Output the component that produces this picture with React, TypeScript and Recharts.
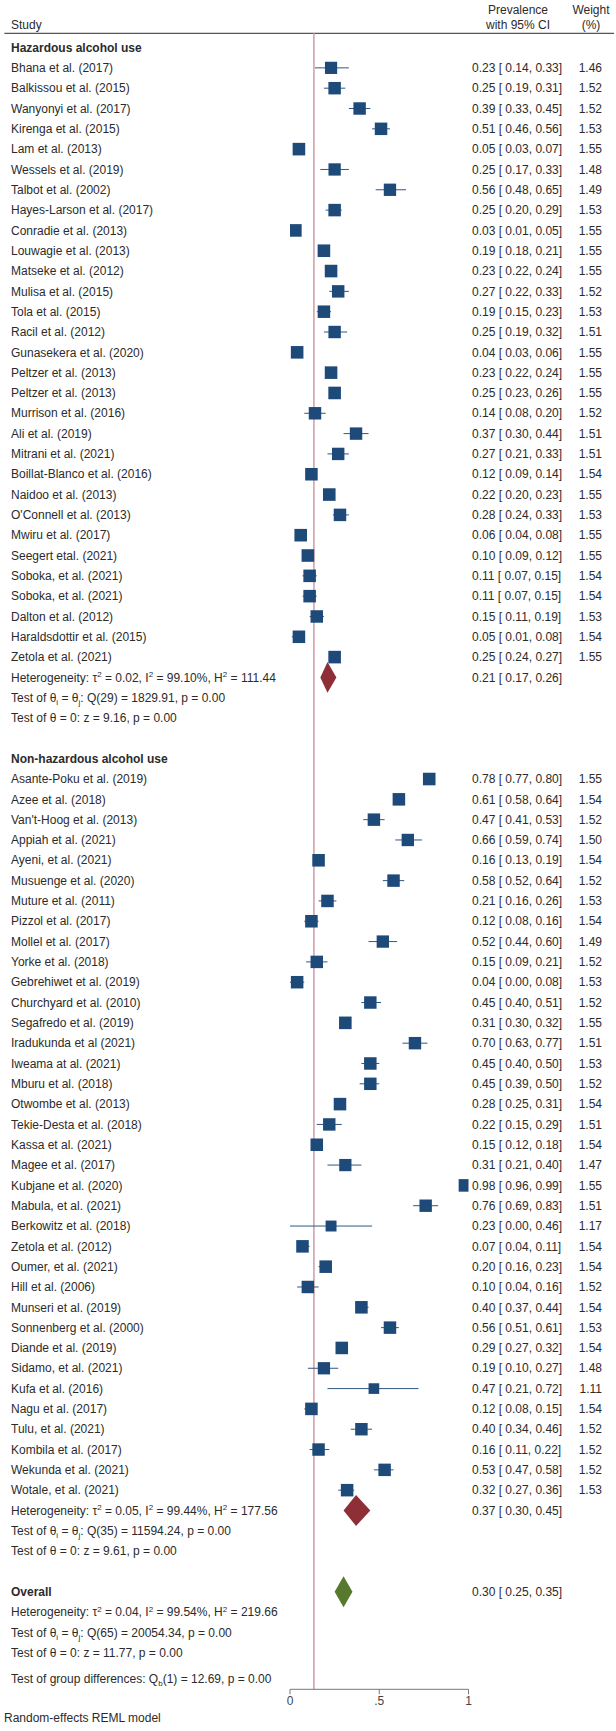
import React from 'react';
import { ScatterChart, Scatter, XAxis, YAxis, ReferenceLine, ReferenceArea } from 'recharts';

// ---------- data ----------
const groupTitles = ['Hazardous alcohol use', 'Non-hazardous alcohol use'];

const hazNames = [
  'Bhana et al. (2017)', 'Balkissou et al. (2015)', 'Wanyonyi et al. (2017)', 'Kirenga et al. (2015)',
  'Lam et al. (2013)', 'Wessels et al. (2019)', 'Talbot et al. (2002)', 'Hayes-Larson et al. (2017)',
  'Conradie et al. (2013)', 'Louwagie et al. (2013)', 'Matseke et al. (2012)', 'Mulisa et al. (2015)',
  'Tola et al. (2015)', 'Racil et al. (2012)', 'Gunasekera et al. (2020)', 'Peltzer et al. (2013)',
  'Peltzer et al. (2013)', 'Murrison et al. (2016)', 'Ali et al. (2019)', 'Mitrani et al. (2021)',
  'Boillat-Blanco et al. (2016)', 'Naidoo et al. (2013)', "O'Connell et al. (2013)", 'Mwiru et al. (2017)',
  'Seegert etal. (2021)', 'Soboka, et al. (2021)', 'Soboka, et al. (2021)', 'Dalton et al. (2012)',
  'Haraldsdottir et al. (2015)', 'Zetola et al. (2021)',
];
const hazEst = [0.23, 0.25, 0.39, 0.51, 0.05, 0.25, 0.56, 0.25, 0.03, 0.19, 0.23, 0.27, 0.19, 0.25, 0.04, 0.23, 0.25, 0.14, 0.37, 0.27, 0.12, 0.22, 0.28, 0.06, 0.10, 0.11, 0.11, 0.15, 0.05, 0.25];
const hazLo = [0.14, 0.19, 0.33, 0.46, 0.03, 0.17, 0.48, 0.20, 0.01, 0.18, 0.22, 0.22, 0.15, 0.19, 0.03, 0.22, 0.23, 0.08, 0.30, 0.21, 0.09, 0.20, 0.24, 0.04, 0.09, 0.07, 0.07, 0.11, 0.01, 0.24];
const hazHi = [0.33, 0.31, 0.45, 0.56, 0.07, 0.33, 0.65, 0.29, 0.05, 0.21, 0.24, 0.33, 0.23, 0.32, 0.06, 0.24, 0.26, 0.20, 0.44, 0.33, 0.14, 0.23, 0.33, 0.08, 0.12, 0.15, 0.15, 0.19, 0.08, 0.27];
const hazWeight = [1.46, 1.52, 1.52, 1.53, 1.55, 1.48, 1.49, 1.53, 1.55, 1.55, 1.55, 1.52, 1.53, 1.51, 1.55, 1.55, 1.55, 1.52, 1.51, 1.51, 1.54, 1.55, 1.53, 1.55, 1.55, 1.54, 1.54, 1.53, 1.54, 1.55];

const nonNames = [
  'Asante-Poku et al. (2019)', 'Azee et al. (2018)', "Van't-Hoog et al. (2013)", 'Appiah et al. (2021)',
  'Ayeni, et al. (2021)', 'Musuenge et al. (2020)', 'Muture et al. (2011)', 'Pizzol et al. (2017)',
  'Mollel et al. (2017)', 'Yorke et al. (2018)', 'Gebrehiwet et al. (2019)', 'Churchyard et al. (2010)',
  'Segafredo et al. (2019)', 'Iradukunda et al (2021)', 'Iweama at al. (2021)', 'Mburu et al. (2018)',
  'Otwombe et al. (2013)', 'Tekie-Desta et al. (2018)', 'Kassa et al. (2021)', 'Magee et al. (2017)',
  'Kubjane et al. (2020)', 'Mabula, et al. (2021)', 'Berkowitz et al. (2018)', 'Zetola et al. (2012)',
  'Oumer, et al. (2021)', 'Hill et al. (2006)', 'Munseri et al. (2019)', 'Sonnenberg et al. (2000)',
  'Diande et al. (2019)', 'Sidamo, et al. (2021)', 'Kufa et al. (2016)', 'Nagu et al. (2017)',
  'Tulu, et al. (2021)', 'Kombila et al. (2017)', 'Wekunda et al. (2021)', 'Wotale, et al. (2021)',
];
const nonEst = [0.78, 0.61, 0.47, 0.66, 0.16, 0.58, 0.21, 0.12, 0.52, 0.15, 0.04, 0.45, 0.31, 0.70, 0.45, 0.45, 0.28, 0.22, 0.15, 0.31, 0.98, 0.76, 0.23, 0.07, 0.20, 0.10, 0.40, 0.56, 0.29, 0.19, 0.47, 0.12, 0.40, 0.16, 0.53, 0.32];
const nonLo = [0.77, 0.58, 0.41, 0.59, 0.13, 0.52, 0.16, 0.08, 0.44, 0.09, 0.00, 0.40, 0.30, 0.63, 0.40, 0.39, 0.25, 0.15, 0.12, 0.21, 0.96, 0.69, 0.00, 0.04, 0.16, 0.04, 0.37, 0.51, 0.27, 0.10, 0.21, 0.08, 0.34, 0.11, 0.47, 0.27];
const nonHi = [0.80, 0.64, 0.53, 0.74, 0.19, 0.64, 0.26, 0.16, 0.60, 0.21, 0.08, 0.51, 0.32, 0.77, 0.50, 0.50, 0.31, 0.29, 0.18, 0.40, 0.99, 0.83, 0.46, 0.11, 0.23, 0.16, 0.44, 0.61, 0.32, 0.27, 0.72, 0.15, 0.46, 0.22, 0.58, 0.36];
const nonWeight = [1.55, 1.54, 1.52, 1.50, 1.54, 1.52, 1.53, 1.54, 1.49, 1.52, 1.53, 1.52, 1.55, 1.51, 1.53, 1.52, 1.54, 1.51, 1.54, 1.47, 1.55, 1.51, 1.17, 1.54, 1.54, 1.52, 1.54, 1.53, 1.54, 1.48, 1.11, 1.54, 1.52, 1.52, 1.52, 1.53];

// subgroup summaries: [hazardous, non-hazardous]
const subEst = [0.21, 0.37];
const subLo = [0.17, 0.30];
const subHi = [0.26, 0.45];
const subTau2 = ['0.02', '0.05'];
const subI2 = ['99.10', '99.44'];
const subH2 = ['111.44', '177.56'];
const subQdf = [29, 35];
const subQ = ['1829.91', '11594.24'];
const subZ = ['9.16', '9.61'];

// overall
const overallEst = 0.30;
const overallLo = 0.25;
const overallHi = 0.35;
const overallTau2 = '0.04';
const overallI2 = '99.54';
const overallH2 = '219.66';
const overallQdf = 65;
const overallQ = '20054.34';
const overallZ = '11.77';
const groupDiffDf = 1;
const groupDiffQ = '12.69';
const pValue = '0.00';

const xTicks = [0, 0.5, 1];
const xTickLabels = ['0', '.5', '1'];
const nullLineX = 0.134;

// ---------- layout / style ----------
const FONT = '"Liberation Sans", Arial, Helvetica, sans-serif';
const TEXT = '#2b2b2b';
const NAVY = '#1d4a79';
const CI_COLOR = '#2f5884';
const MAROON = '#8e2f37';
const GREEN = '#57792e';
const Y_DOMAIN: [number, number] = [-2.34, 80.8];
const RULE_POS = -0.7;
const SQUARE_K = 10.1;
const DIAMOND_HALF = 0.76;

type Seg = { t: string; sup?: boolean; sub?: boolean };
type Row = {
  pos: number;
  label?: Seg[];
  bold?: boolean;
  prev?: string;
  weight?: string;
  prevHeader?: string;
  weightHeader?: string;
};

const f2 = (v: number) => v.toFixed(2);
const prevText = (e: number, l: number, h: number) => `${f2(e)} [ ${f2(l)}, ${f2(h)}]`;

const hetSegs = (t: string, i: string, h: string): Seg[] => [
  { t: 'Heterogeneity: \u03c4' }, { t: '2', sup: true }, { t: ` = ${t}, I` }, { t: '2', sup: true },
  { t: ` = ${i}%, H` }, { t: '2', sup: true }, { t: ` = ${h}` },
];
const qSegs = (df: number, q: string): Seg[] => [
  { t: 'Test of \u03b8' }, { t: 'i', sub: true }, { t: ' = \u03b8' }, { t: 'j', sub: true },
  { t: `: Q(${df}) = ${q}, p = ${pValue}` },
];
const zSegs = (z: string): Seg[] => [{ t: `Test of \u03b8 = 0: z = ${z}, p = ${pValue}` }];

const rows: Row[] = [];
const points: { x: number; y: number; w: number }[] = [];
const ciLines: { lo: number; hi: number; y: number }[] = [];
const diamonds: { est: number; lo: number; hi: number; y: number; color: string }[] = [];

rows.push({ pos: -1.88, prevHeader: 'Prevalence', weightHeader: 'Weight' });
rows.push({ pos: -1.107, label: [{ t: 'Study' }], prevHeader: 'with 95% CI', weightHeader: '(%)' });

const groups = [
  { names: hazNames, est: hazEst, lo: hazLo, hi: hazHi, w: hazWeight },
  { names: nonNames, est: nonEst, lo: nonLo, hi: nonHi, w: nonWeight },
];
let r = 0;
groups.forEach((g, gi) => {
  rows.push({ pos: r, label: [{ t: groupTitles[gi] }], bold: true });
  r++;
  g.names.forEach((n, i) => {
    rows.push({ pos: r, label: [{ t: n }], prev: prevText(g.est[i], g.lo[i], g.hi[i]), weight: f2(g.w[i]) });
    points.push({ x: g.est[i], y: r, w: g.w[i] });
    ciLines.push({ lo: g.lo[i], hi: g.hi[i], y: r });
    r++;
  });
  rows.push({ pos: r, label: hetSegs(subTau2[gi], subI2[gi], subH2[gi]), prev: prevText(subEst[gi], subLo[gi], subHi[gi]) });
  diamonds.push({ est: subEst[gi], lo: subLo[gi], hi: subHi[gi], y: r, color: MAROON });
  r++;
  rows.push({ pos: r, label: qSegs(subQdf[gi], subQ[gi]) });
  r++;
  rows.push({ pos: r, label: zSegs(subZ[gi]) });
  r++;
  r++; // blank row
});
rows.push({ pos: r, label: [{ t: 'Overall' }], bold: true, prev: prevText(overallEst, overallLo, overallHi) });
diamonds.push({ est: overallEst, lo: overallLo, hi: overallHi, y: r, color: GREEN });
r++;
rows.push({ pos: r, label: hetSegs(overallTau2, overallI2, overallH2) });
r++;
rows.push({ pos: r, label: qSegs(overallQdf, overallQ) });
r++;
rows.push({ pos: r, label: zSegs(overallZ) });
r++;
rows.push({
  pos: r + 0.3,
  label: [{ t: 'Test of group differences: Q' }, { t: 'b', sub: true }, { t: `(${groupDiffDf}) = ${groupDiffQ}, p = ${pValue}` }],
});

const yTicks = rows.map((row) => row.pos);

function renderSegs(segs: Seg[]) {
  let shift = 0;
  return segs.map((s, i) => {
    const target = s.sup ? -4.5 : s.sub ? 3 : 0;
    const dy = target - shift;
    shift = target;
    return (
      <tspan key={i} dy={dy !== 0 ? dy : undefined} fontSize={s.sup || s.sub ? 8 : undefined}>
        {s.t}
      </tspan>
    );
  });
}

const RowTick = (props: any) => {
  const { y, payload } = props;
  const row = rows.find((rw) => Math.abs(rw.pos - payload.value) < 1e-6);
  if (!row) return null;
  const common = { y, dy: '0.35em', fontSize: 12, fontFamily: FONT, fill: TEXT };
  return (
    <g>
      {row.label && (
        <text x={11} {...common} fontWeight={row.bold ? 'bold' : 'normal'}>
          {renderSegs(row.label)}
        </text>
      )}
      {row.prev && (
        <text x={472} {...common}>
          {row.prev}
        </text>
      )}
      {row.weight && (
        <text x={602} textAnchor="end" {...common}>
          {row.weight}
        </text>
      )}
      {row.prevHeader && (
        <text x={518} textAnchor="middle" {...common}>
          {row.prevHeader}
        </text>
      )}
      {row.weightHeader && (
        <text x={591} textAnchor="middle" {...common}>
          {row.weightHeader}
        </text>
      )}
    </g>
  );
};

const Square = (p: any) => {
  const s = SQUARE_K * Math.sqrt(p.payload.w);
  return <rect x={p.cx - s / 2} y={p.cy - s / 2} width={s} height={s} fill={NAVY} />;
};

const diamondShape = (d: { est: number; lo: number; hi: number; color: string }) => (p: any) => {
  const { x, y, width, height } = p;
  const cx = x + (width * (d.est - d.lo)) / (d.hi - d.lo);
  const cy = y + height / 2;
  return (
    <polygon
      points={`${x},${cy} ${cx},${y} ${x + width},${cy} ${cx},${y + height}`}
      fill={d.color}
    />
  );
};

export default function App() {
  return (
    <div style={{ position: 'relative', width: 616, height: 1731, background: '#fff' }}>
      <style>{'body{margin:0;background:#fff;}'}</style>
      <ScatterChart width={616} height={1731} margin={{ top: 0, right: 147.5, bottom: 0, left: 0 }}>
        <XAxis
          type="number"
          dataKey="x"
          domain={[0, 1]}
          allowDataOverflow
          ticks={xTicks}
          interval={0}
          tickFormatter={(v: number) => xTickLabels[xTicks.indexOf(v)]}
          height={41.7}
          tickSize={5}
          tickMargin={2}
          stroke="#777"
          tick={{ fill: '#444', fontSize: 12, fontFamily: FONT }}
        />
        <YAxis
          type="number"
          dataKey="y"
          domain={Y_DOMAIN}
          allowDataOverflow
          reversed
          width={290}
          ticks={yTicks}
          interval={0}
          tick={(p: any) => <RowTick {...p} />}
          tickLine={false}
          axisLine={false}
        />
        <ReferenceLine
          segment={[{ x: -1.6, y: RULE_POS }, { x: 1.815, y: RULE_POS }]}
          stroke="#555"
          strokeWidth={1.2}
          ifOverflow="visible"
        />
        <ReferenceLine
          segment={[{ x: nullLineX, y: RULE_POS }, { x: nullLineX, y: Y_DOMAIN[1] }]}
          stroke="#d3a1ac"
          strokeWidth={1.6}
          ifOverflow="visible"
        />
        {ciLines.map((c, i) => (
          <ReferenceLine
            key={'ci' + i}
            segment={[{ x: c.lo, y: c.y }, { x: c.hi, y: c.y }]}
            stroke={CI_COLOR}
            strokeWidth={1}
            ifOverflow="visible"
          />
        ))}
        {diamonds.map((d, i) => (
          <ReferenceArea
            key={'d' + i}
            x1={d.lo}
            x2={d.hi}
            y1={d.y - DIAMOND_HALF}
            y2={d.y + DIAMOND_HALF}
            ifOverflow="visible"
            shape={diamondShape(d)}
          />
        ))}
        <Scatter data={points} shape={Square} isAnimationActive={false} />
      </ScatterChart>
      <div
        style={{
          position: 'absolute',
          left: 4,
          top: 1711,
          fontSize: 12,
          lineHeight: '14px',
          fontFamily: FONT,
          color: TEXT,
          whiteSpace: 'nowrap',
        }}
      >
        Random-effects REML model
      </div>
    </div>
  );
}
